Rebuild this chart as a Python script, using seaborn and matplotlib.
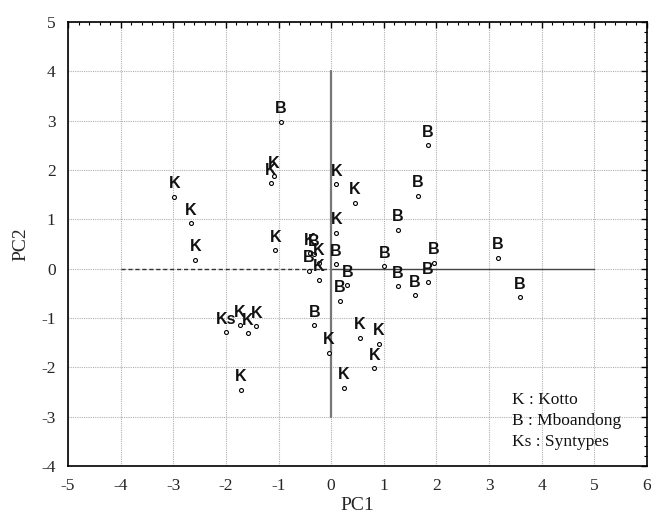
import matplotlib
matplotlib.use("Agg")
import matplotlib.pyplot as plt
import seaborn as sns
import pandas as pd
from matplotlib.ticker import MultipleLocator

# Data
pc1 = [-0.96, -1.09, -1.14, -2.98, -2.66, -2.58, -1.06, 0.10, 0.45, 0.10,
       -0.41, -0.33, -0.23, -0.42, -0.23, 0.09, 0.31, 0.16,
       1.83, 1.65, 1.27, 1.01, 1.27, 1.59, 1.83, 1.95, 3.17, 3.58,
       -2.00, -1.74, -1.58, -1.42, -0.32, -0.05, 0.54, 0.91, 0.82, 0.24, -1.72]
pc2 = [2.98, 1.87, 1.73, 1.45, 0.92, 0.18, 0.37, 1.71, 1.34, 0.73,
       0.31, 0.29, 0.11, -0.05, -0.22, 0.09, -0.34, -0.65,
       2.50, 1.48, 0.78, 0.05, -0.36, -0.54, -0.28, 0.12, 0.22, -0.58,
       -1.29, -1.15, -1.31, -1.17, -1.15, -1.71, -1.40, -1.52, -2.02, -2.42, -2.46]
group = ["B", "K", "K", "K", "K", "K", "K", "K", "K", "K",
         "K", "B", "K", "B", "K", "B", "B", "B",
         "B", "B", "B", "B", "B", "B", "B", "B", "B", "B",
         "Ks", "K", "K", "K", "B", "K", "K", "K", "K", "K", "K"]
legend_lines = ["K : Kotto", "B : Mboandong", "Ks : Syntypes"]

df = pd.DataFrame({"PC1": pc1, "PC2": pc2, "group": group})

sns.set_style("white")
plt.rcParams["font.family"] = ["Liberation Serif", "DejaVu Serif"]
plt.rcParams["axes.unicode_minus"] = False

fig = plt.figure(figsize=(6.51, 5.20), dpi=100)
ax = fig.add_axes([68/651, 1 - 466/520, (647-68)/651, (466-22)/520])

ax.set_xlim(-5, 6)
ax.set_ylim(-4, 5)
ax.xaxis.set_major_locator(MultipleLocator(1))
ax.yaxis.set_major_locator(MultipleLocator(1))
ax.xaxis.set_minor_locator(MultipleLocator(0.2))
ax.yaxis.set_minor_locator(MultipleLocator(0.2))
ax.grid(True, which="major", color="#b0b0b0", linestyle=(0, (1, 1)), linewidth=0.8)
ax.set_axisbelow(True)

# reference cross lines
ax.plot([-4, 0], [0, 0], color="#333333", linestyle=(0, (3, 2)), linewidth=1.0, zorder=1.5)
ax.plot([0, 5], [0, 0], color="#444444", linestyle="-", linewidth=1.0, zorder=1.5)
ax.plot([0, 0], [-3, 4], color="#777777", linestyle="-", linewidth=1.6, zorder=1.5)

sns.scatterplot(data=df, x="PC1", y="PC2", ax=ax, marker="o", s=8,
                facecolor="white", edgecolor="black", linewidth=0.8,
                legend=False, zorder=3)

for x, y, g in zip(pc1, pc2, group):
    ax.annotate(g, (x, y), xytext=(0, 9.5), textcoords="offset points",
                ha="center", va="center", fontsize=11.5, fontweight="bold",
                family=["Liberation Sans", "DejaVu Sans"], color="#111111", zorder=4)

for i, t in enumerate(legend_lines):
    ax.text(512/651, (520 - 400 - i*21)/520, t, transform=fig.transFigure,
            fontsize=12.5, ha="left", va="center", color="#111111")

for s in ax.spines.values():
    s.set_visible(True)
    s.set_color("black")
    s.set_linewidth(1.2)

ax.tick_params(which="both", direction="in", top=True, right=True, color="black")
ax.tick_params(which="major", length=4, width=1.0, labelsize=12.5, pad=9)
ax.tick_params(which="minor", length=2.5, width=0.8)

ax.set_xlabel("PC1", fontsize=14, labelpad=2)
ax.set_ylabel("PC2", fontsize=14, labelpad=8)

fig.savefig("out.png", dpi=100)
